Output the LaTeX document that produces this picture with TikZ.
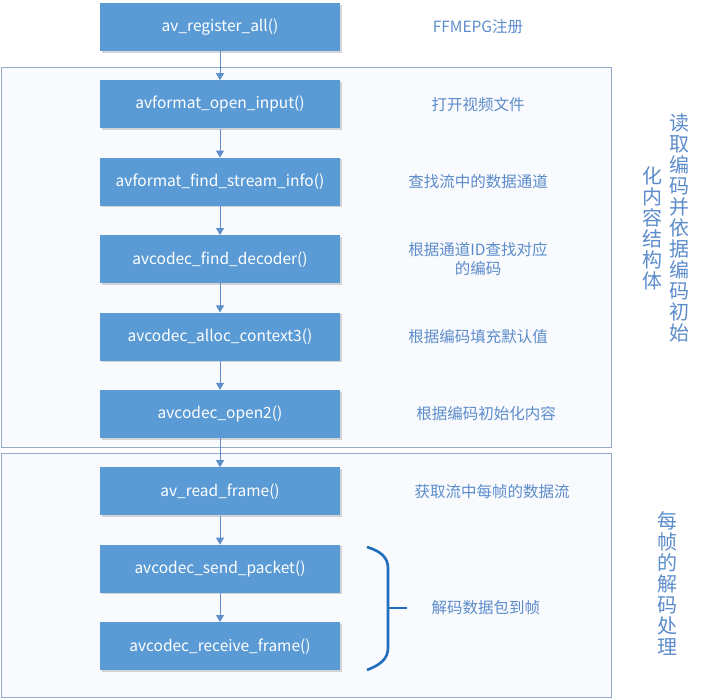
\documentclass[tikz,border=0pt]{standalone}
\usepackage{fontspec}
\setmainfont{Noto Sans CJK SC}
\usepackage{tikz}
\usetikzlibrary{positioning,calc,arrows.meta,shadows}

\begin{document}
\begin{tikzpicture}[
    x=1pt,
    y=-1pt,
    >=Latex,
    node distance=29pt,
    func/.style={fill=funcBlue, minimum width=240pt, minimum height=48pt, inner sep=0pt,
        text=white, font=\fontsize{15.5}{17}\selectfont,
        drop shadow={shadow xshift=1.5pt, shadow yshift=-1.5pt, fill=black!45, opacity=0.35}},
    flow/.style={draw=lineBlue, line width=0.8pt, -{Triangle[width=8pt, length=7pt]}},
    group/.style={draw=frameGrey, line width=0.9pt, fill=frameFill},
    note/.style={text=noteBlue, font=\fontsize{15.5}{19}\selectfont, align=center},
    vtext/.style={text=noteBlue, font=\fontsize{20}{21}\selectfont, align=center},
    brace/.style={draw=braceBlue, line width=2.6pt}
]

\definecolor{funcBlue}{HTML}{5B9BD5}
\definecolor{lineBlue}{HTML}{5E8FC8}
\definecolor{frameGrey}{HTML}{93AACB}
\definecolor{frameFill}{HTML}{F8FAFD}
\definecolor{noteBlue}{HTML}{5C8CCB}
\definecolor{braceBlue}{HTML}{1F6DBD}

\useasboundingbox (0,0) rectangle (702,699);

% Group frames
\draw[group] (1,67) rectangle (611,447);
\draw[group] (1,453) rectangle (611,697);

% Function calls
\node[func] (reg) at (220,27) {av\_register\_all()};
\node[func, below=of reg] (open) {avformat\_open\_input()};
\node[func, below=of open] (info) {avformat\_find\_stream\_info()};
\node[func, below=of info] (find) {avcodec\_find\_decoder()};
\node[func, below=of find] (alloc) {avcodec\_alloc\_context3()};
\node[func, below=of alloc] (copen) {avcodec\_open2()};
\node[func, below=of copen] (read) {av\_read\_frame()};
\node[func, below=of read] (send) {avcodec\_send\_packet()};
\node[func, below=of send] (recv) {avcodec\_receive\_frame()};

\foreach \a/\b in {reg/open, open/info, info/find, find/alloc, alloc/copen,
                   copen/read, read/send, send/recv}{
    \draw[flow] (\a) -- (\b);
}

% Notes beside each call
\coordinate (lx) at (478,0);
\node[note] (nreg) at (reg -| lx) {FFMEPG注册};
\node[note] (nopen) at (open -| lx) {打开视频文件};
\node[note] (ninfo) at (info -| lx) {查找流中的数据通道};
\node[note] (nfind) at (find -| lx) {根据通道ID查找对应\\的编码};
\node[note] (nalloc) at (alloc -| lx) {根据编码填充默认值};
\node[note, xshift=8pt] (ncopen) at (copen -| lx) {根据编码初始化内容};
\node[note, xshift=14pt] (nread) at (read -| lx) {获取流中每帧的数据流};

% Brace round send/recv
\coordinate (btop) at (367,547);
\coordinate (bbot) at (367,670);
\coordinate (btip) at (388,608);
\draw[brace] (btop) .. controls (380,551) and (388,557) .. (388,568)
    -- (388,648) .. controls (388,659) and (380,665) .. (bbot);
\node[note, anchor=west] (ndec) at (428,608) {解码数据包到帧};
\draw[brace] (btip) -- (ndec.west -| 407,0);

% Group titles, set upright in columns
\node[vtext] (gone) at (679,228) {读\\取\\编\\码\\并\\依\\据\\编\\码\\初\\始};
\node[vtext] (gonb) at (652,228) {化\\内\\容\\结\\构\\体};
\node[vtext] (gtwo) at (667,584) {每\\帧\\的\\解\\码\\处\\理};

\end{tikzpicture}
\end{document}
